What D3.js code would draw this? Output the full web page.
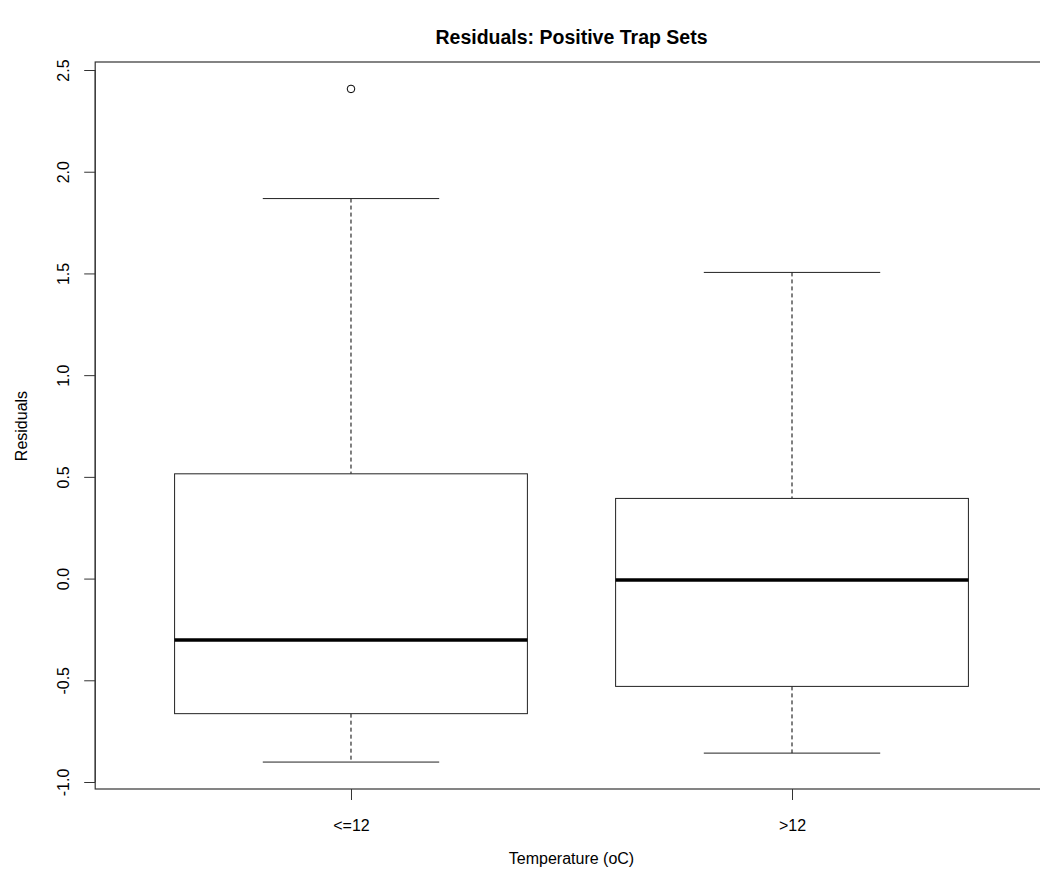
<!DOCTYPE html>
<html>
<head>
<meta charset="utf-8">
<script src="https://cdn.jsdelivr.net/npm/d3@7"></script>
<style>
  body { margin: 0; background: #fff; }
  text { font-family: "Liberation Sans", Arial, sans-serif; fill: #000; }
</style>
</head>
<body>
<div id="chart"></div>
<script>
// boxplot data
const groups = ['<=12', '>12'];
const lowerWhisker = [-0.902, -0.858];
const q1 = [-0.664, -0.530];
const median = [-0.302, -0.007];
const q3 = [0.515, 0.394];
const upperWhisker = [1.868, 1.505];
const outliers = [[2.407], []];
const yTicks = [-1.0, -0.5, 0.0, 0.5, 1.0, 1.5, 2.0, 2.5];

const width = 1040, height = 879;
const plotLeft = 95.2, plotRight = 1047.8, plotTop = 62, plotBottom = 789;

const svg = d3.select('#chart').append('svg')
    .attr('width', width)
    .attr('height', height);

svg.append('rect').attr('width', width).attr('height', height).attr('fill', '#fff');

// R-style 4% padding on both axes
const allVals = lowerWhisker.concat(upperWhisker, outliers.flat());
const [ymin, ymax] = d3.extent(allVals);
const pad = (ymax - ymin) * 0.04;
const y = d3.scaleLinear().domain([ymin - pad, ymax + pad]).range([plotBottom, plotTop]);
const x = d3.scaleLinear().domain([0.42, 2.58]).range([plotLeft, plotRight]);
const boxW = x(1.4) - x(1);

const boxes = svg.append('g').selectAll('g')
    .data(groups)
    .enter().append('g');

// dashed whiskers
boxes.append('line')
    .attr('x1', (d, i) => x(i + 1)).attr('x2', (d, i) => x(i + 1))
    .attr('y1', (d, i) => y(upperWhisker[i])).attr('y2', (d, i) => y(q3[i]))
    .attr('stroke', '#000').attr('stroke-dasharray', '4,3');
boxes.append('line')
    .attr('x1', (d, i) => x(i + 1)).attr('x2', (d, i) => x(i + 1))
    .attr('y1', (d, i) => y(q1[i])).attr('y2', (d, i) => y(lowerWhisker[i]))
    .attr('stroke', '#000').attr('stroke-dasharray', '4,3');

// whisker caps
[upperWhisker, lowerWhisker].forEach(arr => {
    boxes.append('line')
        .attr('x1', (d, i) => x(i + 1) - boxW / 2).attr('x2', (d, i) => x(i + 1) + boxW / 2)
        .attr('y1', (d, i) => y(arr[i])).attr('y2', (d, i) => y(arr[i]))
        .attr('stroke', '#222').attr('stroke-width', 1);
});

boxes.append('rect')
    .attr('x', (d, i) => x(i + 1) - boxW)
    .attr('width', boxW * 2)
    .attr('y', (d, i) => y(q3[i]))
    .attr('height', (d, i) => y(q1[i]) - y(q3[i]))
    .attr('fill', '#fff').attr('stroke', '#222').attr('stroke-width', 1);

boxes.append('line')
    .attr('x1', (d, i) => x(i + 1) - boxW).attr('x2', (d, i) => x(i + 1) + boxW)
    .attr('y1', (d, i) => y(median[i])).attr('y2', (d, i) => y(median[i]))
    .attr('stroke', '#000').attr('stroke-width', 3.5);

boxes.each(function(d, i) {
    d3.select(this).selectAll('circle')
        .data(outliers[i])
        .enter().append('circle')
        .attr('cx', x(i + 1)).attr('cy', v => y(v))
        .attr('r', 3.8).attr('fill', 'none').attr('stroke', '#000').attr('stroke-width', 1);
});

// frame
svg.append('rect')
    .attr('x', plotLeft).attr('y', plotTop)
    .attr('width', plotRight - plotLeft).attr('height', plotBottom - plotTop)
    .attr('fill', 'none').attr('stroke', '#333').attr('stroke-width', 1.2);

// y axis
const yAxis = svg.append('g')
    .attr('transform', `translate(${plotLeft},0)`)
    .call(d3.axisLeft(y).tickValues(yTicks).tickSize(11)
        .tickFormat(d => d3.format('.1f')(d).replace('\u2212', '-')));
yAxis.select('.domain')
    .attr('d', `M0,${y(yTicks[yTicks.length - 1])}V${y(yTicks[0])}`)
    .attr('stroke', '#333');
yAxis.selectAll('.tick line').attr('stroke', '#333');
yAxis.selectAll('.tick text')
    .attr('transform', 'rotate(-90)')
    .attr('x', 0).attr('y', -26)
    .attr('dy', 0)
    .attr('text-anchor', 'middle')
    .style('font-size', '16px')
    .style('font-family', '"Liberation Sans", Arial, sans-serif');

// x axis
const xAxis = svg.append('g')
    .attr('transform', `translate(0,${plotBottom})`)
    .call(d3.axisBottom(x).tickValues([1, 2]).tickSize(11).tickFormat((d, i) => groups[i]));
xAxis.select('.domain').remove();
xAxis.selectAll('.tick line').attr('stroke', '#333');
xAxis.selectAll('.tick text')
    .attr('y', 42).attr('dy', 0)
    .style('font-size', '16px')
    .style('font-family', '"Liberation Sans", Arial, sans-serif');

// titles
svg.append('text')
    .attr('x', x(1.5)).attr('y', 44)
    .attr('text-anchor', 'middle')
    .style('font-size', '19.5px').style('font-weight', 'bold')
    .text('Residuals: Positive Trap Sets');

svg.append('text')
    .attr('x', x(1.5)).attr('y', 864)
    .attr('text-anchor', 'middle')
    .style('font-size', '16px')
    .text('Temperature (oC)');

svg.append('text')
    .attr('transform', `translate(27,${y(0.75)}) rotate(-90)`)
    .attr('text-anchor', 'middle')
    .style('font-size', '16px')
    .text('Residuals');
</script>
</body>
</html>
